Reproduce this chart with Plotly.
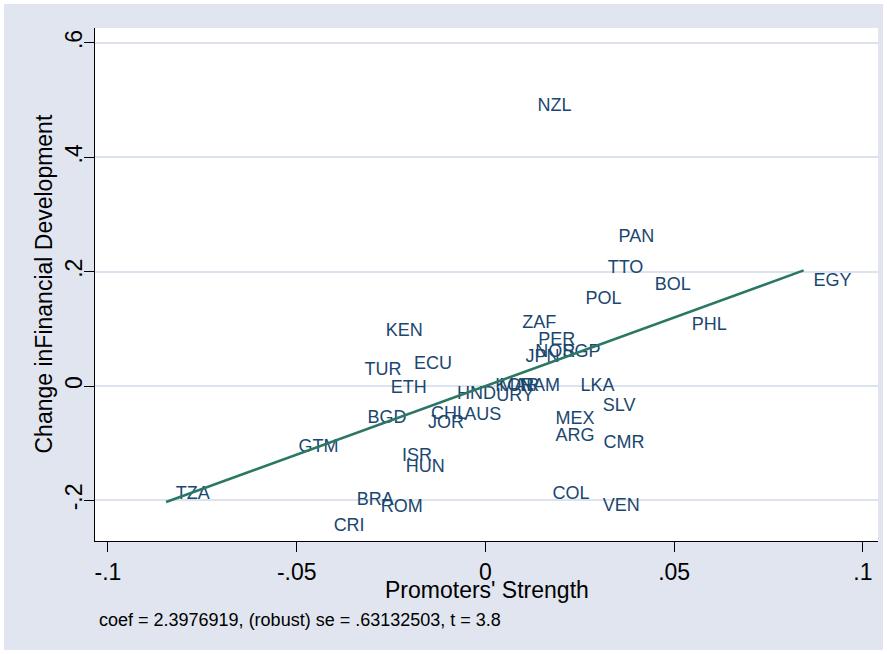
import plotly.graph_objects as go

# Country labels and added-variable residuals
countries = ["NZL", "PAN", "TTO", "BOL", "EGY", "POL", "PHL", "ZAF", "PER", "JPN",
             "NOR", "SGP", "KEN", "ECU", "TUR", "ETH", "HND", "URY", "MAR", "KOR",
             "NAM", "LKA", "SLV", "MEX", "ARG", "CMR", "BGD", "CHL", "AUS", "JOR",
             "GTM", "ISR", "HUN", "TZA", "BRA", "ROM", "CRI", "COL", "VEN"]
promoters = [0.0112, 0.0327, 0.0298, 0.0423, 0.0843, 0.0239, 0.0521, 0.0072, 0.0114, 0.0080,
             0.0106, 0.0178, -0.0290, -0.0215, -0.0346, -0.0277, -0.0101, 0.0003, 0.0011, 0.0000,
             0.0066, 0.0226, 0.0285, 0.0160, 0.0160, 0.0287, -0.0338, -0.0170, -0.0082, -0.0178,
             -0.0521, -0.0247, -0.0237, -0.0846, -0.0367, -0.0303, -0.0428, 0.0152, 0.0285]
fin_dev = [0.489, 0.260, 0.206, 0.175, 0.183, 0.152, 0.105, 0.110, 0.080, 0.049,
           0.059, 0.059, 0.096, 0.038, 0.028, -0.004, -0.014, -0.019, 0.000, 0.000,
           0.000, 0.000, -0.035, -0.058, -0.089, -0.101, -0.056, -0.049, -0.052, -0.065,
           -0.108, -0.124, -0.143, -0.189, -0.201, -0.213, -0.246, -0.190, -0.210]

coef_text = "2.3976919"
se_text = ".63132503"
t_text = "3.8"
coef = float(coef_text)

x_ticks = [-0.1, -0.05, 0, 0.05, 0.1]
x_ticklabels = ["-.1", "-.05", "0", ".05", ".1"]
y_ticks = [-0.2, 0, 0.2, 0.4, 0.6]
y_ticklabels = ["-.2", "0", ".2", ".4", ".6"]

FONT = "Liberation Sans, Arial, Helvetica, sans-serif"
LABEL_COLOR = "#1a476f"
LINE_COLOR = "#2a7763"
BG = "#e0e5ef"
GRID = "#dde3ee"

fig = go.Figure()

fig.add_trace(go.Scatter(
    x=promoters, y=fin_dev, mode="markers+text", text=countries,
    textposition="middle right",
    marker=dict(size=14, color="rgba(0,0,0,0)"),
    textfont=dict(family=FONT, size=18, color=LABEL_COLOR),
    hoverinfo="skip", showlegend=False,
))

xmin, xmax = min(promoters), max(promoters)
fig.add_trace(go.Scatter(
    x=[xmin, xmax], y=[coef * xmin, coef * xmax], mode="lines",
    line=dict(color=LINE_COLOR, width=2.5), hoverinfo="skip", showlegend=False,
))

note = f"coef = {coef_text}, (robust) se = {se_text}, t = {t_text}"

fig.update_layout(
    width=879, height=646,
    margin=dict(l=91, r=5, t=24, b=109),
    paper_bgcolor=BG, plot_bgcolor="white",
    font=dict(family=FONT, color="black"),
    xaxis=dict(
        range=[-0.10344, 0.104], tickvals=x_ticks, ticktext=x_ticklabels,
        showgrid=False, zeroline=False, showline=True, linecolor="black", linewidth=1,
        ticks="outside", ticklen=10, tickcolor="black", tickfont=dict(size=23),
    ),
    yaxis=dict(
        range=[-0.271, 0.626], tickvals=y_ticks, ticktext=y_ticklabels,
        showgrid=True, gridcolor=GRID, gridwidth=1.5, zeroline=False,
        showline=True, linecolor="black", linewidth=1,
        ticks="outside", ticklen=10, tickcolor="black", tickfont=dict(size=23),
        tickangle=-90, ticklabelstandoff=-7,
    ),
    annotations=[
        dict(text="Promoters' Strength", xref="paper", yref="paper", x=0.5, y=-0.0955,
             xanchor="center", yanchor="middle", showarrow=False,
             font=dict(family=FONT, size=23, color="black")),
        dict(text="Change inFinancial Development", xref="paper", yref="paper",
             x=-0.0664, y=0.5, xanchor="center", yanchor="middle", textangle=-90,
             showarrow=False, font=dict(family=FONT, size=23, color="black")),
        dict(text=note, xref="paper", yref="paper", x=0.0026, y=-0.154,
             xanchor="left", yanchor="middle", showarrow=False,
             font=dict(family=FONT, size=18, color="black")),
    ],
)

fig.write_html("out.html", post_script="document.body.style.margin='4px';document.body.style.background='white';")
